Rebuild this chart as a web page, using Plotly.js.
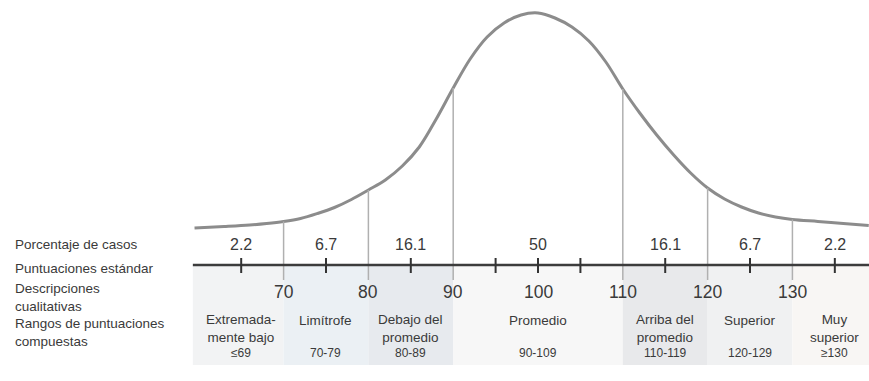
<!DOCTYPE html>
<html>
<head>
<meta charset="utf-8">
<script src="https://cdn.plot.ly/plotly-3.0.1.min.js"></script>
<style>html,body{margin:0;padding:0;background:#fff;}#chart{width:869px;height:381px;}</style>
</head>
<body>
<div id="chart"></div>
<script>
// Curve (score vs. height above the baseline)
const curveScores  = [59.5, 63, 66, 68, 70, 72, 74, 76, 78, 80, 82, 84, 86, 88, 90, 92, 94, 96, 98, 100,
                      102, 104, 106, 108, 110, 112, 114, 116, 118, 120, 122, 124, 126, 128, 130, 133, 136, 139];
const curveHeights = [37, 38.5, 40, 41.5, 43.5, 46.5, 51.5, 57.5, 65.5, 75, 85, 99, 118, 146, 177, 206, 228, 242, 250, 252,
                      247, 238, 224, 203, 176, 152, 130, 110, 92, 77, 66, 58, 52, 48, 45.5, 43.5, 41.5, 39.5];

// Category boundaries and heights where the vertical lines meet the curve
const boundaries      = [70, 80, 90, 110, 120, 130];
const boundaryHeights = [43.5, 75, 177, 176, 77, 45.5];

// Small ticks on the axis
const tickScores = [65, 75, 85, 95, 100, 105, 115, 125, 135];

// Region centres, labels
const regionCenters = [65, 75, 85, 100, 115, 125, 135];
const percentages   = ["2.2", "6.7", "16.1", "50", "16.1", "6.7", "2.2"];
const descLine1     = ["Extremada-", "Limítrofe", "Debajo del", "Promedio", "Arriba del", "Superior", "Muy"];
const descLine2     = ["mente bajo", "", "promedio", "", "promedio", "", "superior"];
const ranges        = ["≤69", "70-79", "80-89", "90-109", "110-119", "120-129", "≥130"];

// Standard score labels
const scoreLabels = [70, 80, 90, 100, 110, 120, 130];

// Shaded bands (start, end, colour)
const bandStarts = [59.3, 70, 80, 90, 110, 120, 130];
const bandEnds   = [70, 80, 90, 110, 120, 130, 139.1];
const bandColors = ["#f2f3f4", "#ebf0f4", "#e7eaee", "#f7f7f7", "#e8e9eb", "#f0f1f2", "#f8f6f4"];

// Row labels on the left
const rowLabels = ["Porcentaje de casos", "Puntuaciones estándar", "Descripciones<br>cualitativas", "Rangos de puntuaciones<br>compuestas"];

const font = "Liberation Sans, Arial, sans-serif";
const txt = "#3a3a3a";
const Y = px => 265 - px;   // pixel row -> height above the axis line

const shapes = [];
bandStarts.forEach((s, i) => {
  shapes.push({type: "rect", xref: "x", yref: "y", x0: s, x1: bandEnds[i], y0: 0, y1: -100,
    fillcolor: bandColors[i], line: {width: 0}, layer: "below"});
});
boundaries.forEach((b, i) => {
  shapes.push({type: "line", xref: "x", yref: "y", x0: b, x1: b, y0: boundaryHeights[i], y1: -15,
    line: {color: "#b0b0b0", width: 1.5}});
});
shapes.push({type: "line", xref: "x", yref: "y", x0: 59.3, x1: 139.1, y0: 0, y1: 0,
  line: {color: "#3c3c3c", width: 2.5}});
tickScores.forEach(t => {
  shapes.push({type: "line", xref: "x", yref: "y", x0: t, x1: t, y0: 7, y1: -8,
    line: {color: "#333", width: 2}});
});

const annotations = [];
regionCenters.forEach((c, i) => {
  annotations.push({x: c, y: Y(244), xref: "x", yref: "y", text: percentages[i], showarrow: false,
    font: {family: font, size: 16, color: txt}});
  const desc = descLine2[i] ? descLine1[i] + "<br>" + descLine2[i] : descLine1[i];
  annotations.push({x: c, y: descLine2[i] ? Y(328) : Y(320), xref: "x", yref: "y", text: desc, showarrow: false,
    borderpad: 0, font: {family: font, size: 13.5, color: txt}});
  annotations.push({x: c, y: Y(352.5), xref: "x", yref: "y", text: ranges[i], showarrow: false,
    borderpad: 0, font: {family: font, size: 12, color: txt}});
});
scoreLabels.forEach(s => {
  annotations.push({x: s, y: Y(292), xref: "x", yref: "y", text: String(s), showarrow: false,
    font: {family: font, size: 17.5, color: txt}});
});
const rowPx = [244, 268, 297, 332];
rowLabels.forEach((r, i) => {
  annotations.push({x: 14 / 869, y: Y(rowPx[i]), xref: "paper", yref: "y", xanchor: "left", align: "left",
    borderpad: 0, text: r, showarrow: false, font: {family: font, size: 13.5, color: txt}});
});

const data = [{
  x: curveScores, y: curveHeights, type: "scatter", mode: "lines",
  line: {color: "#8c8c8c", width: 3, shape: "spline", smoothing: 1},
  hoverinfo: "skip"
}];

const layout = {
  width: 869, height: 381,
  margin: {l: 0, r: 0, t: 0, b: 0},
  paper_bgcolor: "#fff", plot_bgcolor: "#fff",
  showlegend: false,
  xaxis: {range: [36.56, 139.03], visible: false, fixedrange: true},
  yaxis: {range: [-116, 265], visible: false, fixedrange: true},
  shapes: shapes,
  annotations: annotations
};

Plotly.newPlot("chart", data, layout, {displayModeBar: false, staticPlot: true});
</script>
</body>
</html>
